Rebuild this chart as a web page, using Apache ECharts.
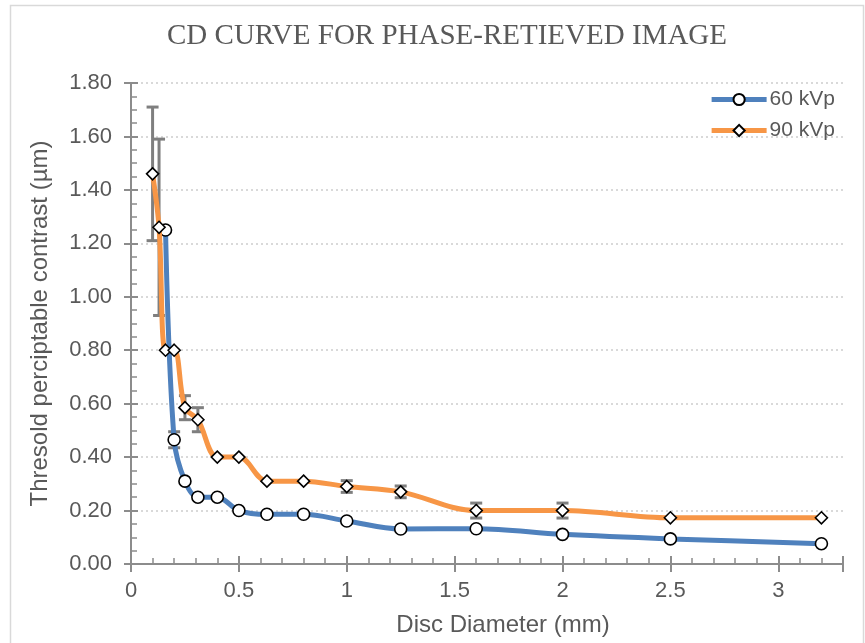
<!DOCTYPE html>
<html>
<head>
<meta charset="utf-8">
<script src="https://cdn.jsdelivr.net/npm/echarts@6/dist/echarts.min.js"></script>
<style>
  html, body { margin: 0; padding: 0; background: #fff; }
  #chart { width: 865px; height: 643px; }
</style>
</head>
<body>
<div id="chart"></div>
<script>
// Disc diameters (mm) and threshold contrast values per tube voltage
const diam60 = [0.16, 0.2, 0.25, 0.31, 0.4, 0.5, 0.63, 0.8, 1.0, 1.25, 1.6, 2.0, 2.5, 3.2];
const contrast60 = [1.25, 0.465, 0.31, 0.25, 0.25, 0.20, 0.186, 0.186, 0.161, 0.131, 0.132, 0.111, 0.094, 0.076];

const diam90 = [0.1, 0.13, 0.16, 0.2, 0.25, 0.31, 0.4, 0.5, 0.63, 0.8, 1.0, 1.25, 1.6, 2.0, 2.5, 3.2];
const contrast90 = [1.46, 1.26, 0.80, 0.80, 0.585, 0.54, 0.40, 0.40, 0.31, 0.31, 0.29, 0.27, 0.20, 0.20, 0.173, 0.173];

// Error bars: diameter, mean, half-width
const err60X = [0.2];
const err60Mean = [0.465];
const err60Half = [0.03];

const err90X = [0.1, 0.13, 0.25, 0.31, 1.0, 1.25, 1.6, 2.0];
const err90Mean = [1.46, 1.26, 0.585, 0.54, 0.29, 0.27, 0.20, 0.20];
const err90Half = [0.25, 0.33, 0.045, 0.045, 0.022, 0.022, 0.028, 0.028];

const yTicks = { min: 0, max: 1.8, step: 0.2 };
const xTicks = { min: 0, max: 3.3, step: 0.5 };

const textColor = '#595959';
const axisColor = '#8c8c8c';
const sans = '"Liberation Sans", Arial, sans-serif';

function zip(xs, ys) { return xs.map((x, i) => [x, ys[i]]); }
function errRows(xs, ms, hs) { return xs.map((x, i) => [x, ms[i] - hs[i], ms[i] + hs[i]]); }

function errorBarItem(params, api) {
  const x = api.value(0);
  const lo = api.coord([x, api.value(1)]);
  const hi = api.coord([x, api.value(2)]);
  const cap = 6;
  const style = { stroke: '#7f7f7f', lineWidth: 3 };
  return {
    type: 'group',
    children: [
      { type: 'line', shape: { x1: lo[0], y1: lo[1], x2: hi[0], y2: hi[1] }, style },
      { type: 'line', shape: { x1: lo[0] - cap, y1: lo[1], x2: lo[0] + cap, y2: lo[1] }, style },
      { type: 'line', shape: { x1: hi[0] - cap, y1: hi[1], x2: hi[0] + cap, y2: hi[1] }, style }
    ]
  };
}

const chart = echarts.init(document.getElementById('chart'));

const baseX = {
  type: 'value',
  min: xTicks.min, max: xTicks.max, interval: xTicks.step,
  position: 'bottom'
};
const baseY = {
  type: 'value',
  min: yTicks.min, max: yTicks.max, interval: yTicks.step,
  position: 'left'
};

chart.setOption({
  animation: false,
  backgroundColor: '#fff',
  graphic: [{
    type: 'rect',
    shape: { x: 10.5, y: 5.5, width: 853, height: 660 },
    style: { fill: 'none', stroke: '#d9d9d9', lineWidth: 1.5 },
    silent: true, z: -10
  }],
  title: {
    text: 'CD CURVE FOR PHASE-RETIEVED IMAGE',
    left: 442, top: 17, textAlign: 'center',
    textStyle: { fontFamily: '"Liberation Serif", "Times New Roman", serif', fontWeight: 'normal', fontSize: 29, color: textColor }
  },
  legend: {
    right: 25, top: 84, orient: 'vertical',
    itemWidth: 55, itemHeight: 14, itemGap: 10,
    lineStyle: { width: 5 },
    textStyle: { fontFamily: sans, fontSize: 21, color: textColor, padding: [0, 0, 0, -2] },
    data: ['60 kVp', '90 kVp']
  },
  grid: { left: 131, right: 22, top: 83, bottom: 79, containLabel: false },
  xAxis: [
    Object.assign({}, baseX, {
      name: 'Disc Diameter (mm)', nameLocation: 'middle', nameGap: 49,
      nameTextStyle: { fontFamily: sans, fontSize: 24, color: textColor, padding: [0, 0, 0, 32] },
      axisLine: { onZero: false, lineStyle: { color: axisColor, width: 2 } },
      axisTick: { inside: true, length: 8, lineStyle: { color: axisColor, width: 2 } },
      minorTick: { show: true, splitNumber: 5, length: 6, lineStyle: { color: axisColor, width: 1.5 } },
      axisLabel: { fontFamily: sans, fontSize: 22, color: textColor, margin: 16, showMaxLabel: false },
      splitLine: { show: false }
    }),
    Object.assign({}, baseX, {
      axisLine: { show: false, onZero: false },
      axisTick: { inside: false, length: 8, lineStyle: { color: axisColor, width: 2 } },
      axisLabel: { show: false },
      splitLine: { show: false }
    })
  ],
  yAxis: [
    Object.assign({}, baseY, {
      name: 'Thresold perciptable contrast (µm)', nameLocation: 'middle', nameGap: 79,
      nameTextStyle: { fontFamily: sans, fontSize: 24, color: textColor },
      axisLine: { onZero: false, lineStyle: { color: axisColor, width: 2 } },
      axisTick: { inside: true, length: 7, lineStyle: { color: axisColor, width: 2 } },
      minorTick: { show: true, splitNumber: 4, length: 6, lineStyle: { color: axisColor, width: 1.5 } },
      axisLabel: { fontFamily: sans, fontSize: 22, color: textColor, margin: 19, formatter: v => v.toFixed(2) },
      splitLine: { show: true, lineStyle: { color: '#d9d9d9', width: 2, type: [2, 3] } }
    }),
    Object.assign({}, baseY, {
      axisLine: { show: false, onZero: false },
      axisTick: { inside: false, length: 7, lineStyle: { color: axisColor, width: 2 } },
      axisLabel: { show: false },
      splitLine: { show: false }
    })
  ],
  series: [
    {
      name: 'err60', type: 'custom', renderItem: errorBarItem,
      data: errRows(err60X, err60Mean, err60Half), z: 3, silent: true
    },
    {
      name: 'err90', type: 'custom', renderItem: errorBarItem,
      data: errRows(err90X, err90Mean, err90Half), z: 3, silent: true
    },
    {
      name: '60 kVp', type: 'line', smooth: 0.35,
      data: zip(diam60, contrast60),
      symbol: 'circle', symbolSize: 12, showAllSymbol: true,
      lineStyle: { color: '#4F81BD', width: 5 },
      itemStyle: { color: '#fff', borderColor: '#000', borderWidth: 1.6 },
      color: '#4F81BD', z: 4
    },
    {
      name: '90 kVp', type: 'line', smooth: 0.35,
      data: zip(diam90, contrast90),
      symbol: 'diamond', symbolSize: 12, showAllSymbol: true,
      lineStyle: { color: '#F79646', width: 5 },
      itemStyle: { color: '#fff', borderColor: '#000', borderWidth: 1.6 },
      color: '#F79646', z: 5
    }
  ]
});
</script>
</body>
</html>
